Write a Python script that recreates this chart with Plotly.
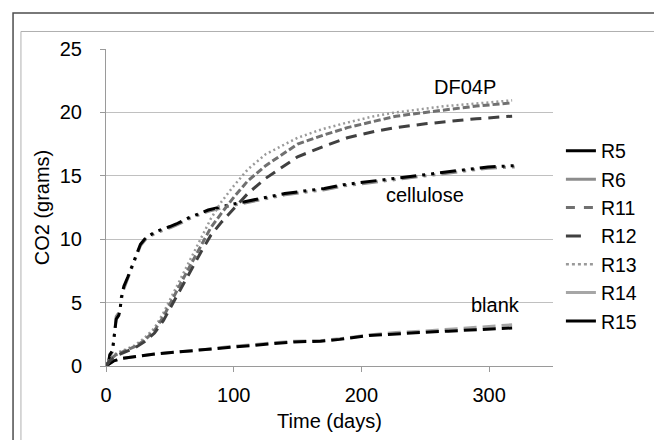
import plotly.graph_objects as go

# ---- data (days, grams CO2) ----
cell_days = [0, 2, 3, 5, 6, 7, 8, 10, 11, 12, 14, 17, 20, 24, 27, 31, 39, 50, 55, 65, 73, 80, 96, 106, 114, 124, 140, 155, 171, 186, 202, 227, 258, 284, 299, 320]
r5_vals   = [0, 0.3, 0.9, 1.2, 2.0, 2.8, 3.7, 4.0, 4.4, 5.4, 6.3, 7.0, 7.8, 8.8, 9.6, 10.1, 10.6, 11.0, 11.2, 11.7, 12.0, 12.3, 12.7, 12.9, 13.1, 13.3, 13.6, 13.8, 14.0, 14.3, 14.5, 14.8, 15.2, 15.5, 15.7, 15.8]
r6_vals   = [0, 0.3, 0.8, 1.1, 1.9, 2.7, 3.9, 4.2, 4.5, 5.2, 6.1, 6.9, 7.7, 8.7, 9.5, 10.0, 10.5, 10.9, 11.1, 11.6, 11.9, 12.2, 12.6, 12.8, 13.0, 13.2, 13.5, 13.7, 13.9, 14.2, 14.4, 14.7, 15.1, 15.4, 15.6, 15.7]

blank_days = [0, 3, 6, 13, 26, 39, 55, 78, 98, 124, 147, 168, 183, 206, 227, 248, 268, 291, 318]
r14_vals   = [0, 0.2, 0.4, 0.6, 0.8, 0.95, 1.1, 1.3, 1.55, 1.75, 1.95, 2.0, 2.15, 2.45, 2.65, 2.75, 2.9, 3.05, 3.25]
r15_vals   = [0, 0.2, 0.4, 0.6, 0.8, 0.95, 1.1, 1.3, 1.5, 1.7, 1.9, 1.95, 2.1, 2.4, 2.55, 2.65, 2.75, 2.85, 3.0]

df_days = [0, 3, 8, 15, 22, 30, 38, 45, 52, 60, 68, 75, 82, 90, 100, 111, 125, 150, 170, 189, 210, 227, 250, 266, 290, 318]
r11_vals = [0, 0.5, 0.9, 1.2, 1.5, 2.0, 2.8, 3.9, 5.2, 6.8, 8.3, 9.6, 10.9, 12.0, 13.3, 14.6, 15.8, 17.5, 18.2, 18.8, 19.3, 19.7, 20.0, 20.2, 20.5, 20.75]
r12_vals = [0, 0.4, 0.8, 1.1, 1.4, 1.9, 2.6, 3.6, 4.9, 6.4, 7.9, 9.1, 10.3, 11.3, 12.4, 13.6, 14.8, 16.5, 17.3, 18.0, 18.5, 18.8, 19.1, 19.25, 19.5, 19.7]
r13_vals = [0, 0.6, 1.0, 1.3, 1.6, 2.2, 3.0, 4.2, 5.6, 7.2, 8.8, 10.2, 11.6, 12.9, 14.2, 15.5, 16.7, 18.0, 18.7, 19.2, 19.7, 20.0, 20.3, 20.5, 20.7, 20.95]

x_ticks = [0, 100, 200, 300]
y_ticks = [0, 5, 10, 15, 20, 25]

labels = [("DF04P", 281, 22.0), ("cellulose", 250, 13.5), ("blank", 305, 4.85)]

FONT = "Liberation Sans, Arial, sans-serif"

# name, x, y, colour, plotted dash, legend dash, width
series = [
    ("R5", cell_days, r5_vals, "#000000", "16px,6px,3px,6px,3px,6px", "solid", 3),
    ("R6", cell_days, r6_vals, "#8c8c8c", "16px,6px,3px,6px,3px,6px", "solid", 3),
    ("R11", df_days, r11_vals, "#707070", "7px,3px", "dash", 3),
    ("R12", df_days, r12_vals, "#404040", "11px,7px", "longdash", 3),
    ("R13", df_days, r13_vals, "#9a9a9a", "2px,3px", "dot", 2.5),
    ("R14", blank_days, r14_vals, "#a6a6a6", "13px,6px", "solid", 3),
    ("R15", blank_days, r15_vals, "#000000", "13px,6px", "solid", 3),
]

fig = go.Figure()
# draw order: blank, cellulose, DF04P (light below dark)
order = ["R14", "R15", "R6", "R5", "R13", "R11", "R12"]
lookup = {s[0]: s for s in series}
for nm in order:
    n, xs, ys, c, d, ld, w = lookup[nm]
    fig.add_trace(go.Scatter(x=xs, y=ys, mode="lines", name=n,
                             showlegend=False, line=dict(color=c, dash=d, width=w)))
for n, xs, ys, c, d, ld, w in series:
    fig.add_trace(go.Scatter(x=[None], y=[None], mode="lines", name=n,
                             showlegend=True, line=dict(color=c, dash=ld, width=w)))

for txt, xx, yy in labels:
    fig.add_annotation(x=xx, y=yy, text=txt, showarrow=False,
                       font=dict(family=FONT, size=20, color="#000000"))

W, H = 654, 440
L, R, T, B = 106, 96, 49, 65
pw, ph = W - L - R, H - T - B

def px(xp):
    return (xp - L) / pw

def py(yp):
    return (H - B - yp) / ph

# outer frames (chart border)
fig.add_shape(type="rect", xref="paper", yref="paper", x0=px(12), y0=py(600), x1=px(900), y1=py(12),
              line=dict(color="#4d4d4d", width=1.5), layer="below")
fig.add_shape(type="rect", xref="paper", yref="paper", x0=px(20), y0=py(600), x1=px(900), y1=py(31),
              line=dict(color="#b0b0b0", width=1), layer="below")

fig.update_layout(
    width=W, height=H,
    margin=dict(l=L, r=R, t=T, b=B),
    paper_bgcolor="white", plot_bgcolor="white",
    font=dict(family=FONT, size=20, color="#000000"),
    showlegend=True,
    legend=dict(x=px(566), y=py(134), xanchor="left", yanchor="top",
                font=dict(family=FONT, size=19.5), tracegroupgap=0,
                bgcolor="rgba(0,0,0,0)", itemclick=False, itemdoubleclick=False),
    xaxis=dict(range=[0, 350], tickvals=x_ticks, ticktext=[str(v) for v in x_ticks],
               showgrid=False, zeroline=False, showline=True, linecolor="#9a9a9a", linewidth=1,
               ticks="outside", ticklen=5, tickcolor="#9a9a9a",
               title=dict(text="Time (days)", standoff=8, font=dict(size=20)),
               tickfont=dict(size=20), ticklabelstandoff=6),
    yaxis=dict(range=[0, 25], tickvals=y_ticks, ticktext=[str(v) for v in y_ticks],
               showgrid=True, gridcolor="#c0c0c0", gridwidth=1, zeroline=False,
               showline=True, linecolor="#9a9a9a", linewidth=1,
               ticks="outside", ticklen=5, tickcolor="#9a9a9a",
               title=dict(text="CO2 (grams)", standoff=4, font=dict(size=20)),
               tickfont=dict(size=20), ticklabelstandoff=14),
)

fig.write_html("out.html", config={"displayModeBar": False},
               post_script="document.body.style.margin='0';document.body.style.overflow='hidden';")
